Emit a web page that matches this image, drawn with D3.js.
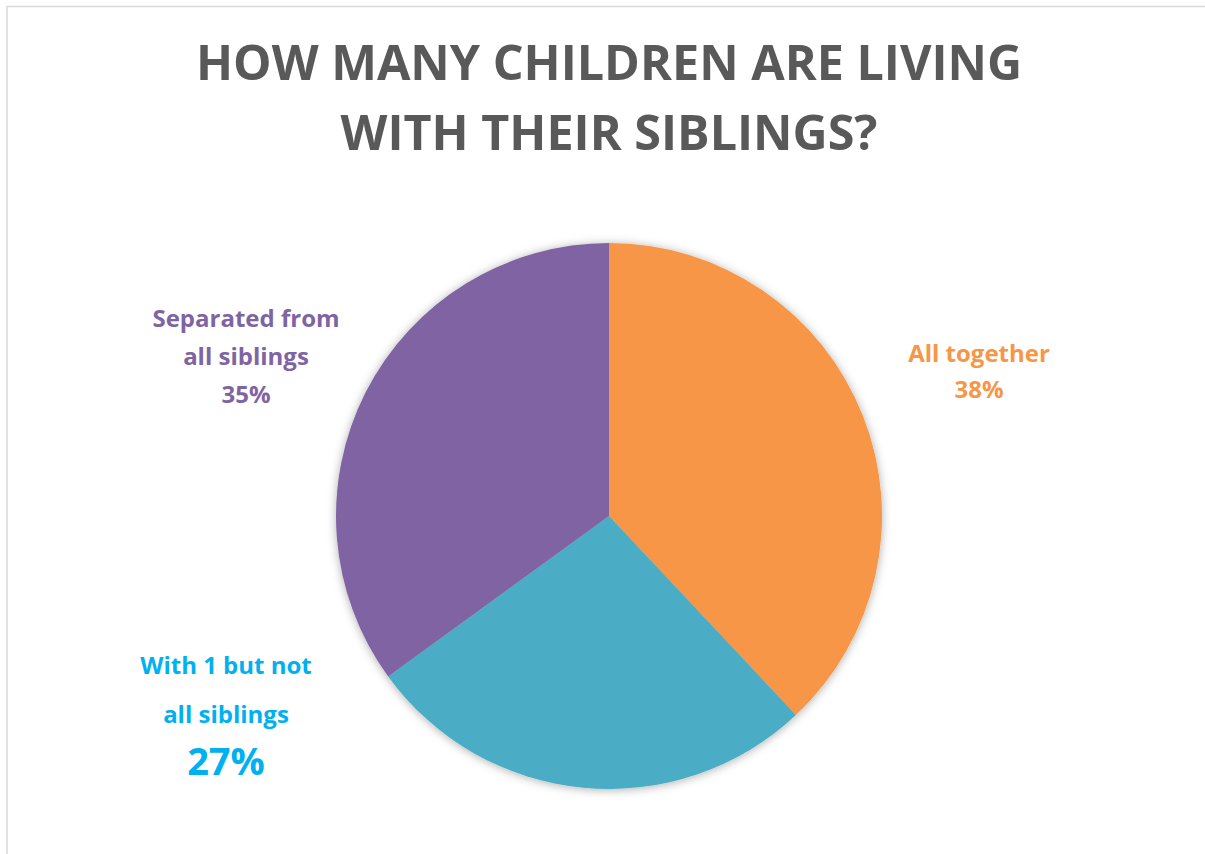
<!DOCTYPE html>
<html>
<head>
<meta charset="utf-8">
<script src="https://cdn.jsdelivr.net/npm/d3@7"></script>
<style>
  html, body { margin: 0; padding: 0; background: #fff; }
  svg { display: block; }
  text { font-family: "Open Sans", Lato, "DejaVu Sans", sans-serif; font-weight: 700; }
</style>
</head>
<body>
<svg id="chart" width="1205" height="854"></svg>
<script>
// Share of children by living arrangement with siblings
const categories = ["All together", "With 1 but not all siblings", "Separated from all siblings"];
const values = [38, 27, 35];
const labelLines = [["All together"], ["With 1 but not", "all siblings"], ["Separated from", "all siblings"]];
const titleLines = ["HOW MANY CHILDREN ARE LIVING", "WITH THEIR SIBLINGS?"];

const sliceColors = ["#F79646", "#4BACC6", "#8064A2"];
const labelColors = ["#F79646", "#00B0F0", "#8064A2"];

const W = 1205, H = 854;
const svg = d3.select("#chart");

// chart frame
svg.append("path")
  .attr("d", `M7,${H} V6.5 H${W}`)
  .attr("fill", "none")
  .attr("stroke", "#D9D9D9")
  .attr("stroke-width", 1.5);

// title
svg.append("g").selectAll("text")
  .data(titleLines)
  .join("text")
  .attr("x", 609)
  .attr("y", (d, i) => 80 + i * 70)
  .attr("text-anchor", "middle")
  .attr("fill", "#595959")
  .style("font-size", "48.5px")
  .text(d => d);

// soft shadow under the pie
const defs = svg.append("defs");
const f = defs.append("filter").attr("id", "pieShadow")
  .attr("x", "-20%").attr("y", "-20%").attr("width", "140%").attr("height", "140%");
f.append("feDropShadow")
  .attr("dx", 0).attr("dy", 1).attr("stdDeviation", 5)
  .attr("flood-color", "#000").attr("flood-opacity", 0.32);

const cx = 609, cy = 516, r = 273;
const pie = d3.pie().sort(null).value(d => d);
const arcs = pie(values);
const arc = d3.arc().innerRadius(0).outerRadius(r);

const g = svg.append("g").attr("transform", `translate(${cx},${cy})`);
g.append("g").attr("filter", "url(#pieShadow)")
  .selectAll("path")
  .data(arcs)
  .join("path")
  .attr("d", arc)
  .attr("fill", (d, i) => sliceColors[i]);

// data label layout: offset of the first baseline from the pie centre,
// line gaps and font sizes per label
const labelOffset = [[370, -154], [-383, 158], [-363, -189]];
const labelGaps = [[36], [49, 52], [38, 38]];
const labelFont = [24, 24, 24];
const pctFont = [24, 38, 24];

arcs.forEach((a, i) => {
  const x = cx + labelOffset[i][0];
  let y = cy + labelOffset[i][1];
  const t = svg.append("g").attr("fill", labelColors[i]).attr("text-anchor", "middle");
  labelLines[i].forEach((s, k) => {
    t.append("text").attr("x", x).attr("y", y)
      .style("font-size", labelFont[i] + "px").text(s);
    y += labelGaps[i][k];
  });
  t.append("text").attr("x", x).attr("y", y)
    .style("font-size", pctFont[i] + "px")
    .text(d3.format("d")(a.data) + "%");
});
</script>
</body>
</html>
